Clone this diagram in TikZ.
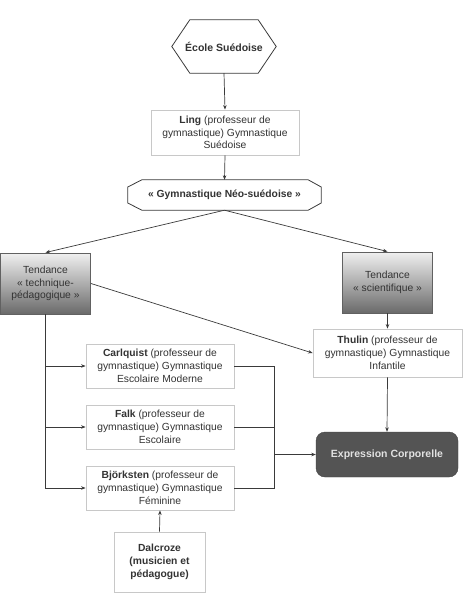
\documentclass[tikz,border=0pt]{standalone}
\usepackage{fontspec}
\setmainfont{Liberation Sans}
\usetikzlibrary{arrows.meta,calc}
\definecolor{txt}{HTML}{333333}
\definecolor{wb}{HTML}{C8C8C8}
\definecolor{dk}{HTML}{3A3A3A}
\definecolor{gtop}{HTML}{F0F0F0}
\definecolor{gbot}{HTML}{6A6A6A}
\definecolor{exfill}{HTML}{545454}
\definecolor{extxt}{HTML}{E2E2E2}
\begin{document}
\begin{tikzpicture}[x=1pt,y=-1pt,
  every node/.style={font=\fontsize{10.3}{12.8}\selectfont, text=txt, align=center, inner sep=0pt},
  wbox/.style={draw=wb, fill=white, line width=0.8pt, minimum width=148pt},
  tbox/.style={draw=dk!80, line width=0.9pt, top color=gtop, bottom color=gbot, minimum width=90pt, minimum height=61pt},
  exbox/.style={draw=exfill!80!black, fill=exfill, rounded corners=9pt, minimum width=142pt, minimum height=45pt, text=extxt, font=\fontsize{10.5}{12.8}\selectfont\bfseries},
  shp/.style={draw=dk, line width=0.8pt, fill=white},
  ln/.style={draw=dk, line width=0.7pt},
  arr/.style={ln, -{Stealth[length=4.5pt,width=3.5pt]}}]
\useasboundingbox (0,0) rectangle (467,597);
% Ecole Suedoise hexagon
\node[minimum width=104pt, minimum height=53pt] (ecole) at (224,46.5) {};
\draw[shp] (ecole.west) -- ($(ecole.north west)+(18,0)$) -- ($(ecole.north east)+(-18,0)$) -- (ecole.east) -- ($(ecole.south east)+(-18,0)$) -- ($(ecole.south west)+(18,0)$) -- cycle;
\node[font=\fontsize{10.5}{12.8}\selectfont\bfseries] at (ecole) {École Suédoise};
% Ling
\node[wbox, minimum height=45pt] (ling) at (225,132.5) {\textbf{Ling} (professeur de\\gymnastique) Gymnastique\\Suédoise};
% Neo-suedoise
\node[minimum width=193pt, minimum height=30pt] (neo) at (224.5,195) {};
\draw[shp] ($(neo.west)+(0,-8)$) -- ($(neo.north west)+(14,0)$) -- ($(neo.north east)+(-13,0)$) -- ($(neo.east)+(0,-8)$) -- ($(neo.east)+(0,8)$) -- ($(neo.south east)+(-13,0)$) -- ($(neo.south west)+(14,0)$) -- ($(neo.west)+(0,8)$) -- cycle;
\node[font=\fontsize{10.3}{12.8}\selectfont\bfseries] at (neo) {« Gymnastique Néo-suédoise »};
% Tendances
\node[tbox] (tech) at (45.5,283.5) {Tendance\\« technique-\\pédagogique »};
\node[tbox] (sci) at (387.5,282.5) {Tendance\\« scientifique »};
% Thulin
\node[wbox, minimum width=149pt, minimum height=48pt] (thulin) at (387.5,353) {\textbf{Thulin} (professeur de\\gymnastique) Gymnastique\\Infantile};
% Expression
\node[exbox] (expr) at (387,454.5) {Expression Corporelle};
% Left boxes
\node[wbox, minimum height=44pt] (carl) at (160,366) {\textbf{Carlquist} (professeur de\\gymnastique) Gymnastique\\Escolaire Moderne};
\node[wbox, minimum height=44pt] (falk) at (160,427) {\textbf{Falk} (professeur de\\gymnastique) Gymnastique\\Escolaire};
\node[wbox, minimum height=44pt] (bjork) at (160,488) {\textbf{Björksten} (professeur de\\gymnastique) Gymnastique\\Féminine};
\node[wbox, minimum width=91pt, minimum height=60pt, font=\fontsize{10.3}{12.8}\selectfont\bfseries] (dal) at (159.5,562) {Dalcroze\\(musicien et\\pédagogue)};
% connectors
\draw[arr] (ecole.south) -- (ling.north);
\draw[arr] (ling.south) -- (neo.north);
\draw[arr] (neo.south) -- (tech.north);
\draw[arr] (neo.south) -- (sci.north);
\draw[arr] (sci.south) -- (thulin.north);
\draw[arr] (tech.east) -- (thulin.west);
\draw[arr] (thulin.south) -- (expr.north);
\draw[arr] (tech.south) |- (carl.west);
\draw[arr] (tech.south) |- (falk.west);
\draw[arr] (tech.south) |- (bjork.west);
\coordinate (j) at (274,454.5);
\draw[ln] (carl.east) -| (j);
\draw[ln] (bjork.east) -| (j);
\draw[ln] (falk.east) -- (falk.east -| j);
\draw[arr] (j) -- (expr.west);
\draw[arr] (dal.north) -- (bjork.south);
\end{tikzpicture}
\end{document}
